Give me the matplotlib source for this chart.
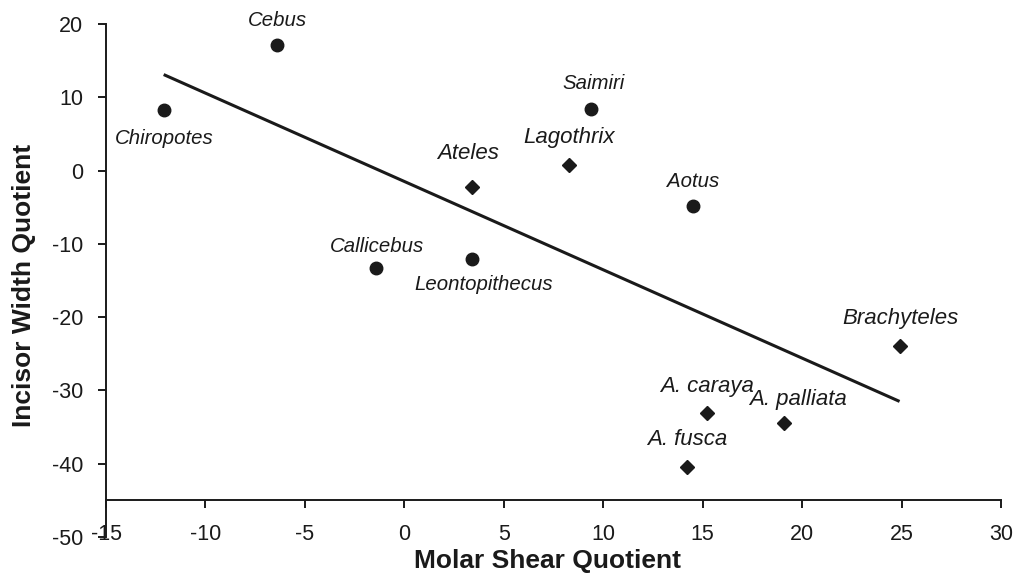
import matplotlib
matplotlib.use("Agg")
import matplotlib.pyplot as plt

plt.rcParams['font.family'] = ['Liberation Sans', 'DejaVu Sans']

# ---- data ----
species = ["Chiropotes", "Cebus", "Saimiri", "Lagothrix", "Ateles", "Aotus",
           "Callicebus", "Leontopithecus", "Brachyteles", "A. caraya",
           "A. palliata", "A. fusca"]
msq = [-12.1, -6.4, 9.4, 8.3, 3.4, 14.5, -1.4, 3.4, 24.9, 15.2, 19.1, 14.2]
iwq = [8.2, 17.1, 8.4, 0.8, -2.2, -4.9, -13.3, -12.0, -24.0, -33.1, -34.4, -40.4]
marker_type = ["o", "o", "o", "D", "D", "o", "o", "o", "D", "D", "D", "D"]

trend_x = [-12.1, 24.9]
trend_y = [13.1, -31.5]

x_ticks = [-15, -10, -5, 0, 5, 10, 15, 20, 25, 30]
y_ticks = [-50, -40, -30, -20, -10, 0, 10, 20]

# ---- style / label placement (pixels, y up) ----
label_offsets = {
    "Chiropotes": (1, -28), "Cebus": (0, 25), "Saimiri": (2, 26),
    "Lagothrix": (0, 27), "Ateles": (-4, 33), "Aotus": (0, 25),
    "Callicebus": (1, 22), "Leontopithecus": (12, -26), "Brachyteles": (1, 28),
    "A. caraya": (0, 27), "A. palliata": (14, 23), "A. fusca": (0, 27),
}
INK = "#1a1a1a"

fig = plt.figure(figsize=(10.13, 5.84), dpi=100)
ax = fig.add_axes([106/1013, 1-537/584, (1001-106)/1013, (537-24)/584])

ax.plot(trend_x, trend_y, color=INK, lw=2.2, solid_capstyle='butt', zorder=2)

for name, x, y, m in zip(species, msq, iwq, marker_type):
    if m == "o":
        ax.plot(x, y, marker="o", ms=9, color=INK, mec=INK, ls="none", zorder=3)
        fs = 14.7
    else:
        ax.plot(x, y, marker="D", ms=7, color=INK, mec=INK, ls="none", zorder=3)
        fs = 16.0
    dx, dy = label_offsets[name]
    ax.annotate(name, (x, y), xytext=(dx, dy), textcoords="offset pixels",
                ha="center", va="center", fontsize=fs, style="italic", color=INK)

ax.set_xlim(-15, 30)
ax.set_ylim(-50, 20)
ax.set_xticks(x_ticks)
ax.set_yticks(y_ticks)
ax.set_xticklabels([str(t) for t in x_ticks])
ax.set_yticklabels([str(t) for t in y_ticks])

for s in ["top", "right"]:
    ax.spines[s].set_visible(False)
ax.spines["bottom"].set_position(("data", -45))
for s in ["left", "bottom"]:
    ax.spines[s].set_linewidth(1.4)
    ax.spines[s].set_color(INK)

ax.tick_params(axis="x", direction="out", length=6, width=1.4, pad=11,
               labelsize=15.5, colors=INK)
ax.tick_params(axis="y", direction="out", length=5.5, width=1.4, pad=11,
               labelsize=15.5, colors=INK)

fig.text(547/1013, 1-561/584, "Molar Shear Quotient", ha="center", va="center",
         fontsize=19, fontweight="bold", color=INK)
fig.text(24/1013, 1-285/584, "Incisor Width Quotient", ha="center", va="center",
         rotation=90, fontsize=19, fontweight="bold", color=INK)

fig.savefig("out.png", dpi=100)
